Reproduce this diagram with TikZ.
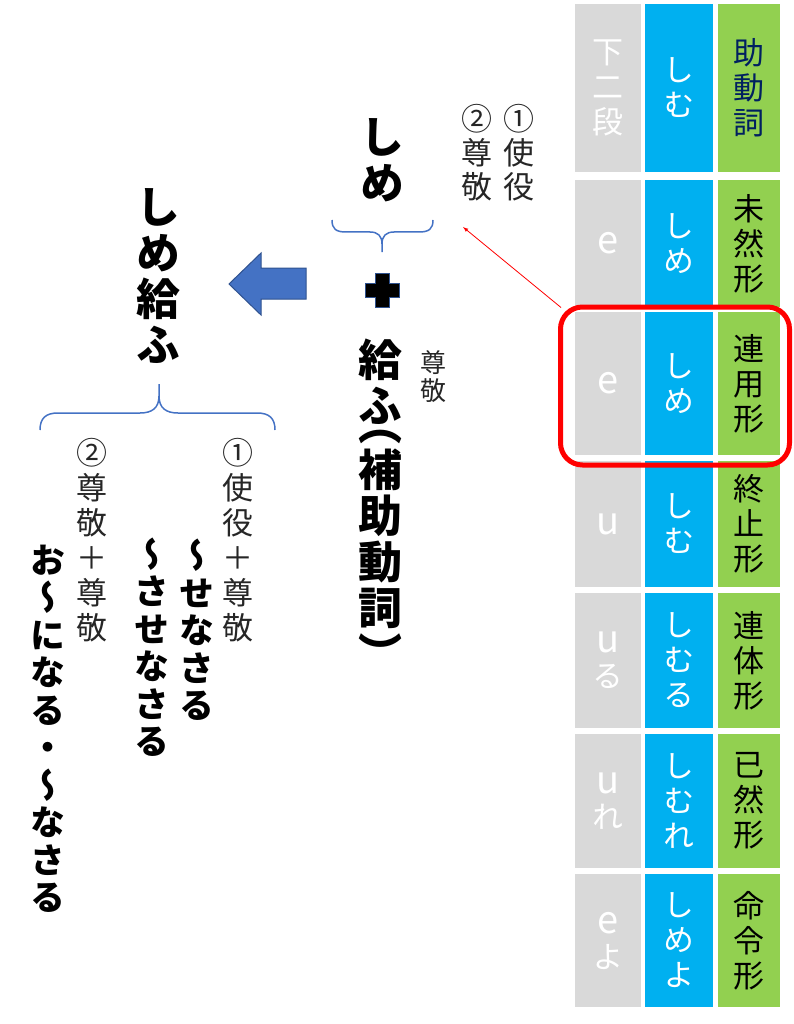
\documentclass[tikz,border=0pt]{standalone}
\usepackage{fontspec}
\usepackage{tikz}
\usetikzlibrary{shapes,arrows,positioning}
\newfontfamily\jp[RawFeature={+vert}]{Noto Sans CJK JP}
\definecolor{cgray}{HTML}{D9D9D9}
\definecolor{cblue}{HTML}{00B0F0}
\definecolor{cgreen}{HTML}{92D050}
\definecolor{cnavy}{HTML}{002060}
\definecolor{bracecol}{HTML}{4472C4}
\definecolor{edgecol}{HTML}{2F528F}
\newcommand\tbl{\fontsize{31}{35}\selectfont\jp}
\newcommand\lat[1]{{\fontsize{38}{35}\selectfont #1}}
\newcommand\bigjp{\fontsize{44}{46}\selectfont\jp\bfseries}
\newcommand\midjp{\fontsize{35}{37.5}\selectfont\jp\bfseries}
\newcommand\lbl{\fontsize{31}{34}\selectfont\jp}
\newcommand\smalllbl{\fontsize{26}{28}\selectfont\jp}

\begin{document}
\begin{tikzpicture}[x=1pt,y=-1pt,
  cell/.style={draw=white, line width=1.5pt, inner sep=0pt, align=center, font=\tbl},
  vtext/.style={inner sep=0pt, align=center},
  thin/.style={vtext, font=\lbl, text=black!85}]
\useasboundingbox (0,0) rectangle (794,1024);

% table header
\node[cell, fill=cgray, text=white, minimum width=68pt, minimum height=170pt] (g1) at (608,88) {下\\二\\段};
\node[cell, fill=cblue, text=white, minimum width=70pt, minimum height=170pt] (b1) at (679,88) {し\\む};
\node[cell, fill=cgreen, text=cnavy, minimum width=64pt, minimum height=170pt] (c1) at (749,88) {助\\動\\詞};

% table rows
\foreach \r/\t/\b/\ga/\bl/\gr in {2/179/308/\lat{e}/{し\\め}/{未\\然\\形},
    3/311/456/\lat{e}/{し\\め}/{連\\用\\形}, 4/460/588/\lat{u}/{し\\む}/{終\\止\\形},
    5/592/729/{\lat{u}\\る}/{し\\む\\る}/{連\\体\\形}, 6/733/869/{\lat{u}\\れ}/{し\\む\\れ}/{已\\然\\形},
    7/873/1008/{\lat{e}\\よ}/{し\\め\\よ}/{命\\令\\形}}{
  \pgfmathsetmacro\h{\b-\t}
  \node[cell, fill=cgray, text=white, minimum width=68pt, minimum height=\h pt] (g\r) at (608,{(\t+\b)/2}) {\ga};
  \node[cell, fill=cblue, text=white, minimum width=70pt, minimum height=\h pt] (b\r) at (679,{(\t+\b)/2}) {\bl};
  \node[cell, fill=cgreen, minimum width=64pt, minimum height=\h pt] (c\r) at (749,{(\t+\b)/2}) {\gr};
}

% red frame round the 連用形 row
\node[draw=red, line width=5pt, rounded corners=22pt, minimum width=229pt, minimum height=158pt] (hl) at (675,386) {};

% しめ + 給ふ
\node[vtext, font=\bigjp] (shime) at (382,160) {し\\め};
\node[thin] (shieki) at (519,153) {①\\使\\役};
\node[thin] (sonkei) at (477,153) {②\\尊\\敬};
\coordinate (pt) at (463,227);
\draw[red, thick, -latex] ([shift={(3,3)}]hl.north west) -- (pt);

\draw[bracecol, line width=1.5pt] (332,220) .. controls (332,229) and (336,232) .. (346,232) -- (370,232)
  .. controls (378,232) and (382,236) .. (382,244) -- (382,252);
\draw[bracecol, line width=1.5pt] (433,220) .. controls (433,229) and (429,232) .. (419,232) -- (394,232)
  .. controls (386,232) and (382,236) .. (382,244);

\draw[fill=black, draw=edgecol, line width=1pt] (375,273) -- (389,273) -- (389,283) -- (399,283) -- (399,297)
  -- (389,297) -- (389,307) -- (375,307) -- (375,297) -- (365,297) -- (365,283) -- (375,283) -- cycle;

\node[vtext, font=\bigjp] (tamafu) at (380,505) {給\\ふ\\[-28pt]（\\補\\助\\動\\詞\\）};
\node[vtext, font=\smalllbl, text=black!85] (sonkei2) at (433,377) {尊\\敬};

% block arrow
\draw[fill=bracecol, draw=edgecol, line width=1pt] (229,284) -- (261,253) -- (261,268) -- (306,268) -- (306,299)
  -- (261,299) -- (261,315) -- cycle;

% しめ給ふ
\node[vtext, font=\bigjp] (shimetamafu) at (158,276) {し\\め\\給\\ふ};
\draw[bracecol, line width=1.5pt] (40,430) .. controls (40,418) and (46,413) .. (58,413) -- (140,413)
  .. controls (152,413) and (159,408) .. (159,396) -- (159,384);
\draw[bracecol, line width=1.5pt] (275,430) .. controls (275,418) and (269,413) .. (257,413) -- (178,413)
  .. controls (166,413) and (159,408) .. (159,396);

\node[thin, font=\fontsize{31}{35}\selectfont\jp] (opt1) at (238,540) {①\\使\\役\\＋\\尊\\敬};
\node[vtext, font=\midjp] (senasaru) at (197,630) {～\\せ\\な\\さ\\る};
\node[vtext, font=\midjp] (sasenasaru) at (152,647) {～\\さ\\せ\\な\\さ\\る};
\node[thin, font=\fontsize{31}{35}\selectfont\jp] (opt2) at (92,540) {②\\尊\\敬\\＋\\尊\\敬};
\node[vtext, font=\midjp] (ninaru) at (48,729) {お\\～\\に\\な\\る\\・\\～\\な\\さ\\る};
\end{tikzpicture}
\end{document}
